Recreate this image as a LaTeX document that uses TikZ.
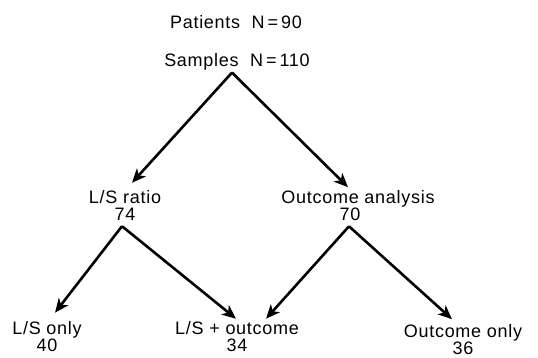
\documentclass[tikz,border=0pt]{standalone}
\usepackage{fontspec}
\setmainfont{Liberation Sans}[LetterSpace=4]
\usetikzlibrary{arrows.meta}
\begin{document}
\begin{tikzpicture}[x=1pt,y=-1pt,
  lbl/.style={inner sep=0pt,align=center,font=\fontsize{18}{17}\selectfont},
  arr/.style={line width=2.6pt,-{Stealth[length=14pt,width=12pt,inset=4pt]}}]
\useasboundingbox (0,0) rectangle (538,358);
\node[lbl] (patients) at (236,22) {Patients\ \ N\,=\,90};
\node[lbl] (samples) at (237,62) {Samples\ \ N\,=\,110};
\node[lbl] (lsratio) at (125,205.5) {L/S ratio\\74};
\node[lbl] (outcome) at (358,205.5) {Outcome analysis\\\hspace*{-16pt}70};
\node[lbl] (lsonly) at (47,337) {L/S only\\40};
\node[lbl] (lsplus) at (237,337) {L/S + outcome\\34};
\node[lbl] (outonly) at (463,339.5) {Outcome only\\36};
\coordinate (apex0) at ([xshift=-5pt,yshift=-2pt]samples.south);
\coordinate (apex1) at ([xshift=-3pt,yshift=-5.5pt]lsratio.south);
\coordinate (apex2) at ([xshift=-9pt,yshift=-5.5pt]outcome.south);
\draw[arr] (apex0) -- ([xshift=7pt,yshift=7.5pt]lsratio.north);
\draw[arr] (apex0) -- ([xshift=-10pt,yshift=3pt]outcome.north);
\draw[arr] (apex1) -- ([xshift=8pt,yshift=9pt]lsonly.north);
\draw[arr] (apex1) -- ([xshift=-1pt,yshift=3pt]lsplus.north);
\draw[arr] (apex2) -- ([xshift=29pt,yshift=3pt]lsplus.north);
\draw[arr] (apex2) -- ([xshift=-11pt,yshift=5pt]outonly.north);
\end{tikzpicture}
\end{document}
